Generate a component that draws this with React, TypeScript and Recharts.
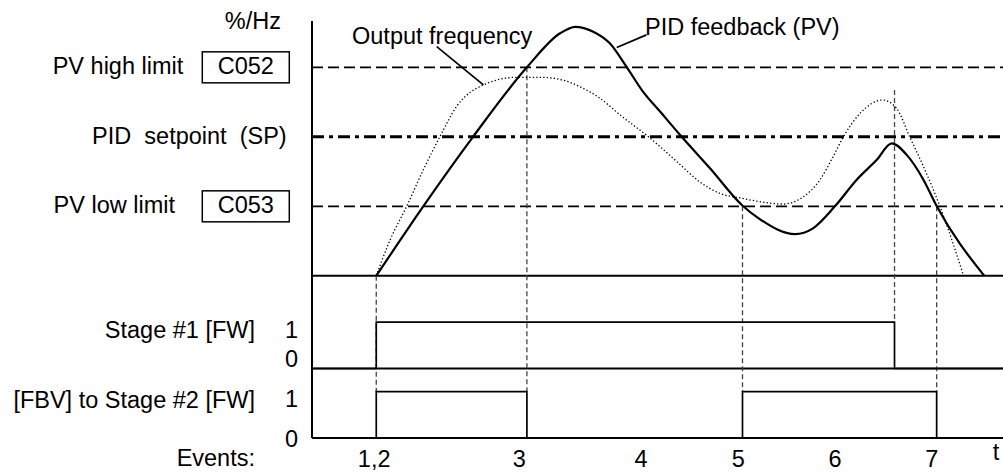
import React from "react";
import { ComposedChart, Line, XAxis, YAxis, ReferenceLine } from "recharts";

const W = 1003;
const H = 472;
const FONT = "'Liberation Sans', Arial, Helvetica, sans-serif";
const FS = 23.5;

// time runs 0..100 across the plot; top trace in %, digital rows sit below 0
const PV_T = [9.3, 16.1, 23.3, 31.1, 35.9, 38.1, 40.7, 43.1, 45.5, 47.9, 50.4, 53.5, 57.6, 62.2, 64.8, 69.9, 72.5, 75.7, 78.8, 81.7, 83.9, 86.1, 88.5, 90.4, 97.3];
const PV_V = [0, 30, 60, 90, 104.7, 107.5, 105.4, 100.4, 90.3, 79.5, 70.8, 60, 46.4, 30.6, 24.5, 18, 20.5, 30.1, 41.4, 50, 57.2, 52.1, 41.4, 30.1, 0];

const OF_T = [9.3, 11.3, 13.7, 16.1, 18.5, 20.9, 24.8, 29.6, 33.0, 35.9, 38.8, 41.7, 44.6, 48.7, 52.8, 56.1, 59.0, 62.2, 64.8, 68.2, 71.1, 73.5, 75.4, 76.9, 79.3, 82.6, 84.6, 86.5, 88.5, 90.9, 94.3];
const OF_V = [0, 15.5, 30, 45.7, 60, 73, 82.4, 85.7, 85.7, 84.8, 81.6, 76.6, 69.4, 60, 49.3, 40.6, 35.6, 33.5, 32, 31, 34.1, 41.4, 51.4, 60, 70.1, 75.9, 72.3, 60, 47.1, 29.8, 0];

const STAGE1_T = [0, 9.3, 84.3, 100];
const STAGE1 = [0, 1, 0, 0];
const STAGE2_T = [0, 9.3, 31.1, 62.3, 90.4, 100];
const STAGE2 = [0, 1, 0, 1, 0, 0];

// digital rows: base value on the shared axis, and the height of a "1"
const ROW1_BASE = -40;
const ROW2_BASE = -70;
const ROW_H = 20;

const PV_HIGH = 90;
const SETPOINT = 60;
const PV_LOW = 30;

// event markers: time, where the dashed line starts, where it stops
const EVENT_T = [9.3, 31.1, 62.3, 84.3, 90.4];
const EVENT_FROM = [0, 90, 30, 80.2, 30];
const EVENT_TO = [-50, -50, -50, -20, -50];

const EVENT_TICKS = [9.0, 30.0, 47.6, 61.7, 75.7, 89.7];
const EVENT_LABELS = ["1,2", "3", "4", "5", "6", "7"];

const Y_TICKS = [90, 60, 30, -20, -40, -50, -70];
const Y_NAMES = ["PV high limit", "PID  setpoint  (SP)", "PV low limit", "Stage #1 [FW]", "", "[FBV] to Stage #2 [FW]", ""];
const Y_CODES = ["C052", "", "C053", "", "", "", ""];
const Y_STATES = ["", "", "", "1", "0", "1", "0"];

const NAME_RIGHT = [-128.7, -25.3, -137, -57, 0, -57, 0];
const NAME_DY = [6.7, 7.2, 7, 16, 0, 16.6, 0];
const STATE_DY = [0, 0, 0, 16, -1.2, 15, 9];

const txt = { fill: "#000", fontSize: FS, fontFamily: FONT };

function LevelTick(props: any) {
  const { x, y, payload } = props;
  const i = Y_TICKS.indexOf(payload.value);
  if (i < 0) return null;
  return (
    <g>
      {Y_NAMES[i] && (
        <text x={x + NAME_RIGHT[i]} y={y + NAME_DY[i]} textAnchor="end" style={{ whiteSpace: "pre" }} {...txt}>
          {Y_NAMES[i]}
        </text>
      )}
      {Y_CODES[i] && (
        <g>
          <rect x={x - 109.7} y={y - 15.5} width={87} height={31} fill="#fff" stroke="#000" strokeWidth={1.5} />
          <text x={x - 66.2} y={y + 6.7} textAnchor="middle" {...txt}>{Y_CODES[i]}</text>
        </g>
      )}
      {Y_STATES[i] && (
        <text x={x - 14} y={y + STATE_DY[i]} textAnchor="end" {...txt}>{Y_STATES[i]}</text>
      )}
    </g>
  );
}

export default function App() {
  const pv = PV_T.map((t, i) => ({ t, v: PV_V[i] }));
  const out = OF_T.map((t, i) => ({ t, v: OF_V[i] }));
  const s1 = STAGE1_T.map((t, i) => ({ t, v: ROW1_BASE + ROW_H * STAGE1[i] }));
  const s2 = STAGE2_T.map((t, i) => ({ t, v: ROW2_BASE + ROW_H * STAGE2[i] }));

  return (
    <div style={{ position: "absolute", left: 0, top: 0, width: W, height: H, background: "#fff" }}>
      <ComposedChart width={W} height={H} margin={{ top: 21, right: 0, bottom: 0, left: 0 }}>
        <XAxis
          type="number"
          dataKey="t"
          domain={[0, 100]}
          allowDataOverflow
          ticks={EVENT_TICKS}
          interval={0}
          tickFormatter={(v: number) => EVENT_LABELS[EVENT_TICKS.indexOf(v)] ?? ""}
          tickLine={false}
          tickSize={6}
          tickMargin={6}
          height={34}
          axisLine={{ stroke: "#000", strokeWidth: 2 }}
          tick={txt}
        />
        <YAxis
          type="number"
          domain={[-70, 110]}
          allowDataOverflow
          ticks={Y_TICKS}
          interval={0}
          width={312}
          tickLine={false}
          tickSize={0}
          tickMargin={0}
          axisLine={{ stroke: "#000", strokeWidth: 2 }}
          tick={(p: any) => <LevelTick {...p} />}
        />

        <ReferenceLine y={PV_HIGH} stroke="#000" strokeWidth={1.7} strokeDasharray="11 5" />
        <ReferenceLine y={SETPOINT} stroke="#000" strokeWidth={3} strokeDasharray="12 5 4 5" />
        <ReferenceLine y={PV_LOW} stroke="#000" strokeWidth={1.7} strokeDasharray="11 5" />
        <ReferenceLine y={0} stroke="#000" strokeWidth={2} />
        <ReferenceLine y={ROW1_BASE} stroke="#000" strokeWidth={2} />

        {EVENT_T.map((t, i) => (
          <ReferenceLine
            key={"ev" + i}
            segment={[{ x: t, y: EVENT_FROM[i] }, { x: t, y: EVENT_TO[i] }]}
            stroke="#444"
            strokeWidth={1.3}
            strokeDasharray="5 3"
          />
        ))}

        {/* leader lines for the two trace labels */}
        <ReferenceLine segment={[{ x: 18.05, y: 98.9 }, { x: 24.8, y: 82.4 }]} stroke="#000" strokeWidth={1.7} />
        <ReferenceLine segment={[{ x: 44.1, y: 98.6 }, { x: 48.4, y: 104 }]} stroke="#000" strokeWidth={1.7} />

        <Line data={out} dataKey="v" type="monotone" stroke="#000" strokeWidth={1.3} strokeDasharray="1.3 2.2" dot={false} activeDot={false} isAnimationActive={false} />
        <Line data={pv} dataKey="v" type="monotone" stroke="#000" strokeWidth={2.2} dot={false} activeDot={false} isAnimationActive={false} />
        <Line data={s1} dataKey="v" type="stepAfter" stroke="#000" strokeWidth={1.7} dot={false} activeDot={false} isAnimationActive={false} />
        <Line data={s2} dataKey="v" type="stepAfter" stroke="#000" strokeWidth={1.7} dot={false} activeDot={false} isAnimationActive={false} />

        <text x={281} y={29} textAnchor="end" {...txt}>%/Hz</text>
        <text x={352} y={44} {...txt}>Output frequency</text>
        <text x={645} y={35} {...txt}>PID feedback (PV)</text>
        <text x={255} y={466} textAnchor="end" {...txt}>Events:</text>
        <text x={996} y={460} textAnchor="middle" {...txt}>t</text>
      </ComposedChart>
    </div>
  );
}
